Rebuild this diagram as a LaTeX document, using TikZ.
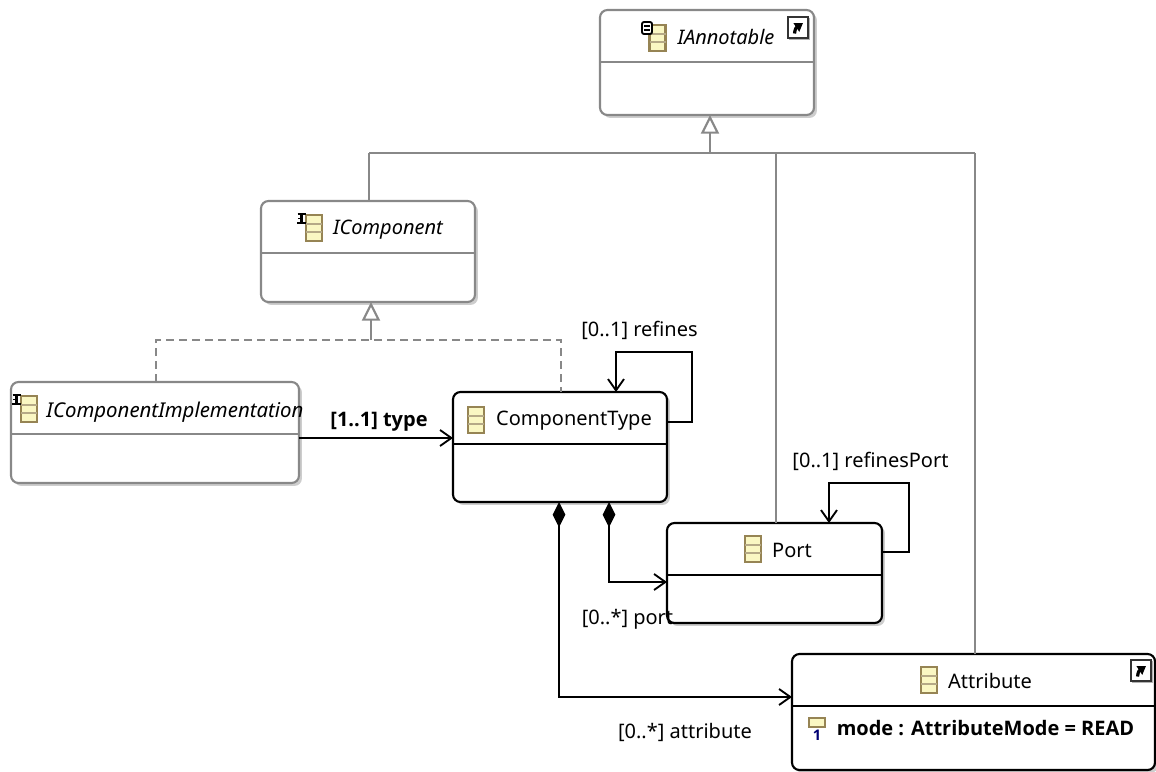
\documentclass[tikz,border=0pt]{standalone}
\usepackage{fontspec}
\setmainfont{Noto Sans}
\newfontfamily\boldface{Open Sans}
\usetikzlibrary{arrows.meta,shadows}

\definecolor{linegray}{RGB}{136,136,136}
\definecolor{iconfill}{RGB}{250,247,195}
\definecolor{iconedge}{RGB}{150,132,84}
\definecolor{shadowgray}{RGB}{205,205,205}

\tikzset{
  boxbase/.style 2 args={rectangle, rounded corners=5.6pt, fill=white, line width=1.6pt,
    minimum width=#1*0.75pt, minimum height=#2*0.75pt, inner sep=0pt, outer sep=0pt,
    drop shadow={shadow xshift=2.2pt, shadow yshift=-2.2pt, fill=shadowgray, opacity=1}},
  abstractbox/.style 2 args={boxbase={#1}{#2}, draw=linegray},
  classbox/.style 2 args={boxbase={#1}{#2}, draw=black},
  title/.style={inner sep=0pt, outer sep=0pt, font=\fontsize{15}{18}\selectfont},
  abstracttitle/.style={title, font=\fontsize{15}{18}\selectfont\itshape},
  rolelabel/.style={title},
  boldlabel/.style={title, font=\fontsize{15}{18}\boldface\bfseries},
  genline/.style={draw=linegray, line width=1.6pt},
  gentip/.style={genline, -{Triangle[open, length=14pt, width=13.5pt, line width=1.6pt, fill=white]}},
  dashline/.style={genline, dash pattern=on 6pt off 3.75pt},
  assoc/.style={draw=black, line width=1.5pt, -{Straight Barb[length=8.5pt, width=12pt, line width=1.4pt]}},
  comp/.style={draw=black, line width=1.5pt, {Diamond[length=19pt, width=9.5pt]}-{Straight Barb[length=8.5pt, width=12pt, line width=1.4pt]}},
  classicon/.pic={
    \draw[draw=iconedge, fill=iconfill, line width=1.6pt] (0,0) rectangle (16,26);
    \draw[draw=iconedge!70, line width=1.3pt] (0,9) -- (16,9) (0,17) -- (16,17);
  },
  badgea/.pic={
    \draw[draw=black, fill=white, line width=1.4pt, rounded corners=1.5pt] (0,0) rectangle (10,12);
    \draw[draw=black, line width=1.2pt] (2,4) -- (8,4) (2,8) -- (8,8);
  },
  badgei/.pic={
    \draw[draw=black, fill=white, line width=1.8pt] (0.5,0) -- (8.5,0) (4.5,0) -- (4.5,9) (0,9) -- (9,9);
    \draw[draw=black, line width=1.4pt] (1,4.5) -- (3,4.5);
  },
  shortcut/.pic={
    \draw[draw=gray!60, fill=gray!60, line width=1pt] (1.5,1.5) rectangle (21.5,22.5);
    \draw[draw=black!80, fill=white, line width=1pt] (0,0) rectangle (20,21);
    \draw[draw=black, line width=2.4pt, -{Triangle[length=6pt, width=7.5pt]}] (6.5,16.5) .. controls (7,11) and (9,10) .. (15,6);
  },
}

\begin{document}
\begin{tikzpicture}[x=0.75pt, y=-0.75pt]
\useasboundingbox (0,0) rectangle (1156,771);

\node[abstractbox={214}{105}] (iannotable) at (707,62.5) {};
\node[abstractbox={214}{101}] (icomponent) at (368,251.5) {};
\node[abstractbox={288}{101}] (implementation) at (155,432.5) {};
\node[classbox={214}{110}] (componenttype) at (560,447) {};
\node[classbox={215}{100}] (port) at (774.5,573) {};
\node[classbox={363}{116}] (attribute) at (973.5,712) {};

\draw[genline] (iannotable.west |- 0,62) -- (iannotable.east |- 0,62);
\draw[genline] (icomponent.west |- 0,253) -- (icomponent.east |- 0,253);
\draw[genline] (implementation.west |- 0,434) -- (implementation.east |- 0,434);
\draw[line width=1.5pt] (componenttype.west |- 0,444) -- (componenttype.east |- 0,444);
\draw[line width=1.5pt] (port.west |- 0,575) -- (port.east |- 0,575);
\draw[line width=1.5pt] (attribute.west |- 0,706) -- (attribute.east |- 0,706);

% inheritance
\coordinate (busjoin) at (710,153);
\coordinate (dashjoin) at (371,340);
\draw[genline] (369,153) -- (975,153);
\draw[gentip] (busjoin) -- (busjoin |- iannotable.south);
\draw[genline] (icomponent.north -| 369,0) -- (369,153);
\draw[genline] (port.north -| 776,0) -- (776,153);
\draw[genline] (attribute.north -| 975,0) -- (975,153);
\draw[gentip] (dashjoin) -- (dashjoin |- icomponent.south);
\draw[dashline] (implementation.north -| 156,0) -- (156,340) -- (561,340) -- (componenttype.north -| 561,0);

% references
\draw[assoc] (implementation.east |- 0,438) -- (componenttype.west |- 0,438);
\draw[assoc] (componenttype.east |- 0,422) -- (692,422) -- (692,352) -- (616,352) -- (componenttype.north -| 616,0);
\draw[assoc] (port.east |- 0,552) -- (909,552) -- (909,483) -- (829,483) -- (port.north -| 829,0);
\draw[comp] (componenttype.south -| 609,0) -- (609,582) -- (port.west |- 0,582);
\draw[comp] (componenttype.south -| 559,0) -- (559,697) -- (attribute.west |- 0,697);

% titles
\node[abstracttitle] (iannotabletitle) at (726,37) {IAnnotable};
\node[abstracttitle] (icomponenttitle) at (388,230) {IComponent};
\node[abstracttitle, font=\fontsize{15.3}{18}\selectfont\itshape] (implementationtitle) at (175,412) {IComponentImplementation};
\node[title] (componenttypetitle) at (574,421) {ComponentType};
\node[title] (porttitle) at (792,550) {Port};
\node[title] (attributetitle) at (990,681) {Attribute};
\node[boldlabel] (modelabel) at (985.5,728) {mode : AttributeMode = READ};

\node[rolelabel] (refineslabel) at (639.5,330) {[0..1] refines};
\node[boldlabel] (typelabel) at (379,422) {[1..1] type};
\node[rolelabel] (refinesportlabel) at (870.5,461) {[0..1] refinesPort};
\node[rolelabel] (portlabel) at (627.5,619) {[0..*] port};
\node[rolelabel] (attributelabel) at (685,732) {[0..*] attribute};

% icons
\pic at (649.5,25) {classicon};
\pic at (642,22) {badgea};
\pic at (306,215) {classicon};
\pic at (297,214) {badgei};
\pic at (21,396) {classicon};
\pic at (12,395) {badgei};
\pic at (468,407) {classicon};
\pic at (745,536) {classicon};
\pic at (921,667) {classicon};
\pic at (788,17) {shortcut};
\pic at (1131,660) {shortcut};

\draw[draw=iconedge, fill=iconfill, line width=1.2pt] (809,718) rectangle (825,727);
\draw[draw=iconedge, line width=2pt] (809,718) -- (825,718);
\node[inner sep=0pt, text=blue!45!black, font=\fontsize{11}{12}\boldface\bfseries] (modeicon) at (817,735) {1};
\end{tikzpicture}
\end{document}
